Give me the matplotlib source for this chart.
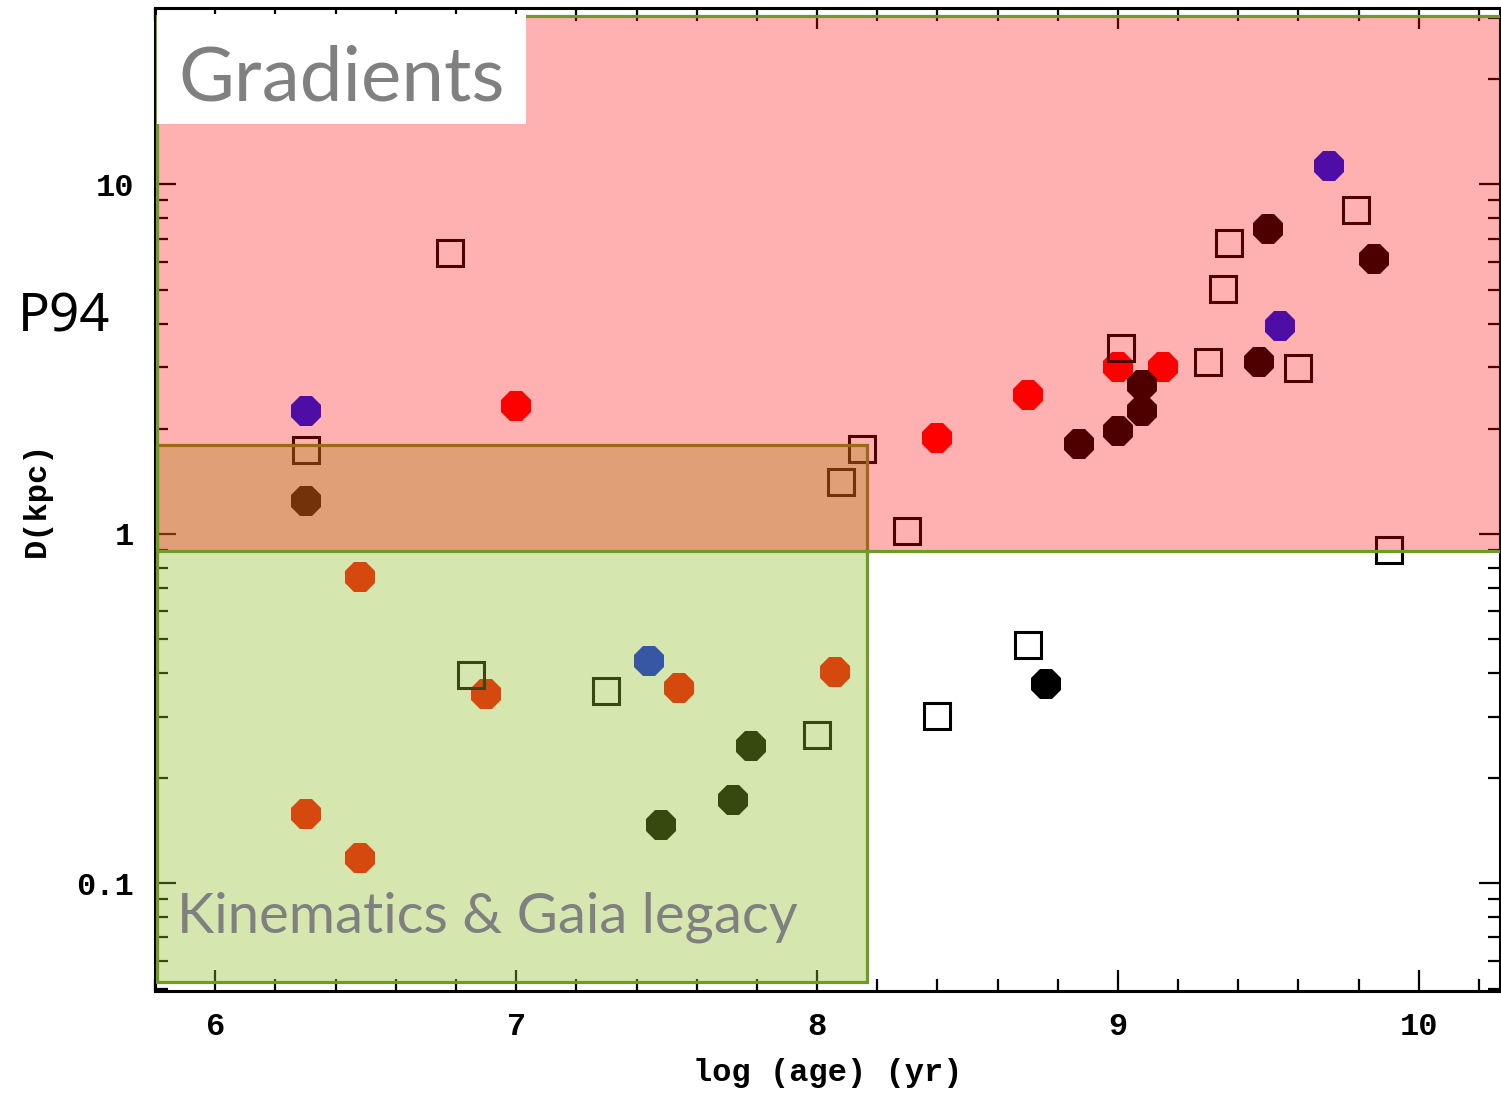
import matplotlib.pyplot as plt
from matplotlib.patches import Rectangle
from matplotlib.ticker import FixedLocator, MultipleLocator, LogLocator, NullFormatter

# log(age) and distance (kpc) of the clusters
black_x = [6.30, 8.87, 9.00, 9.08, 9.08, 9.47, 9.50, 9.85, 7.78, 7.72, 7.48, 8.76]
black_y = [1.24, 1.81, 1.97, 2.25, 2.67, 3.11, 7.46, 6.12, 0.247, 0.173, 0.147, 0.372]

red_x = [7.00, 8.40, 8.70, 9.00, 9.15, 6.48, 6.90, 6.30, 6.48, 7.54, 8.06]
red_y = [2.32, 1.88, 2.50, 3.00, 3.00, 0.753, 0.348, 0.158, 0.1185, 0.362, 0.403]

blue_x = [6.30, 9.54, 9.70, 7.44]
blue_y = [2.25, 3.94, 11.3, 0.433]

open_x = [6.30, 6.78, 8.15, 8.08, 8.30, 9.01, 9.30, 9.60, 9.35, 9.37, 9.79, 9.90,
          6.85, 7.30, 8.00, 8.70, 8.40]
open_y = [1.74, 6.37, 1.75, 1.41, 1.02, 3.41, 3.11, 2.99, 5.02, 6.80, 8.45, 0.90,
          0.395, 0.355, 0.266, 0.481, 0.302]

# shaded regions (x0, x1, y0, y1)
grad_box = (5.807, 10.30, 0.894, 30.3)
kin_box = (5.807, 8.167, 0.0523, 1.80)

fig = plt.figure(figsize=(15.01, 10.93), dpi=100)
ax = fig.add_axes([0.1033, 0.0936, 0.8961, 0.8991])
ax.set_yscale('log')
ax.set_xlim(5.8, 10.27)
ax.set_ylim(0.0493, 32)

# points (drawn under the translucent boxes)
ax.plot(red_x, red_y, '8', color='#ff0000', ms=23, mew=0, zorder=2, clip_on=False)
ax.plot(blue_x, blue_y, '8', color='#0014f0', ms=23, mew=0, zorder=2.05, clip_on=False)
ax.plot(black_x, black_y, '8', color='black', ms=23, mew=0, zorder=2.1, clip_on=False)
ax.plot(open_x, open_y, 's', mfc='none', mec='black', ms=18.5, mew=2.2, zorder=2.2, clip_on=False)

# overlay boxes
ax.add_patch(Rectangle((kin_box[0], kin_box[2]), kin_box[1] - kin_box[0], kin_box[3] - kin_box[2],
                       facecolor=(147/255, 194/255, 42/255, 0.38), edgecolor='#6e9a28',
                       lw=2.3, zorder=3))
ax.add_patch(Rectangle((grad_box[0], grad_box[2]), grad_box[1] - grad_box[0], grad_box[3] - grad_box[2],
                       facecolor=(1, 0, 0, 0.31), edgecolor='none', zorder=4))
ax.add_patch(Rectangle((grad_box[0], grad_box[2]), grad_box[1] - grad_box[0], grad_box[3] - grad_box[2],
                       facecolor='none', edgecolor='#6e9a28', lw=2.3, zorder=4.1))

# white label box + texts
ax.add_patch(Rectangle((0.0015, 0.882), 0.2743, 0.112, transform=ax.transAxes,
                       facecolor='white', edgecolor='none', zorder=5, clip_on=False))
ax.text(0.0175, 0.906, 'Gradients', transform=ax.transAxes, color='#808080',
        fontsize=55, family='Lato', va='baseline', zorder=6)
ax.text(0.0164, 0.0597, 'Kinematics & Gaia legacy', transform=ax.transAxes, color='#808080',
        fontsize=40.5, family='Lato', va='baseline', zorder=6)
fig.text(0.012, 0.6963, 'P94', color='black', fontsize=38, family='Noto Sans', va='baseline')

# axes style
for s in ax.spines.values():
    s.set_linewidth(2.2)
ax.xaxis.set_major_locator(FixedLocator([6, 7, 8, 9, 10]))
ax.xaxis.set_minor_locator(MultipleLocator(0.2))
ax.yaxis.set_major_locator(FixedLocator([0.1, 1, 10]))
ax.yaxis.set_minor_locator(LogLocator(base=10, subs=range(2, 10)))
ax.yaxis.set_minor_formatter(NullFormatter())
ax.set_xticklabels(['6', '7', '8', '9', '10'])
ax.set_yticklabels(['0.1', '1', '10'])
ax.tick_params(which='both', direction='in', top=True, right=True, width=1.6, color='black')
ax.tick_params(which='major', length=15, pad=15)
ax.tick_params(which='minor', length=9)
for lab in ax.get_xticklabels() + ax.get_yticklabels():
    lab.set_family('Liberation Mono')
    lab.set_fontsize(23)
    lab.set_fontweight('bold')

ax.set_xlabel('log (age) (yr)', family='Liberation Mono', fontsize=23, fontweight='bold', labelpad=12)
ax.set_ylabel('D(kpc)', family='Liberation Mono', fontsize=23, fontweight='bold', labelpad=18)

fig.savefig('out.png', dpi=100)
